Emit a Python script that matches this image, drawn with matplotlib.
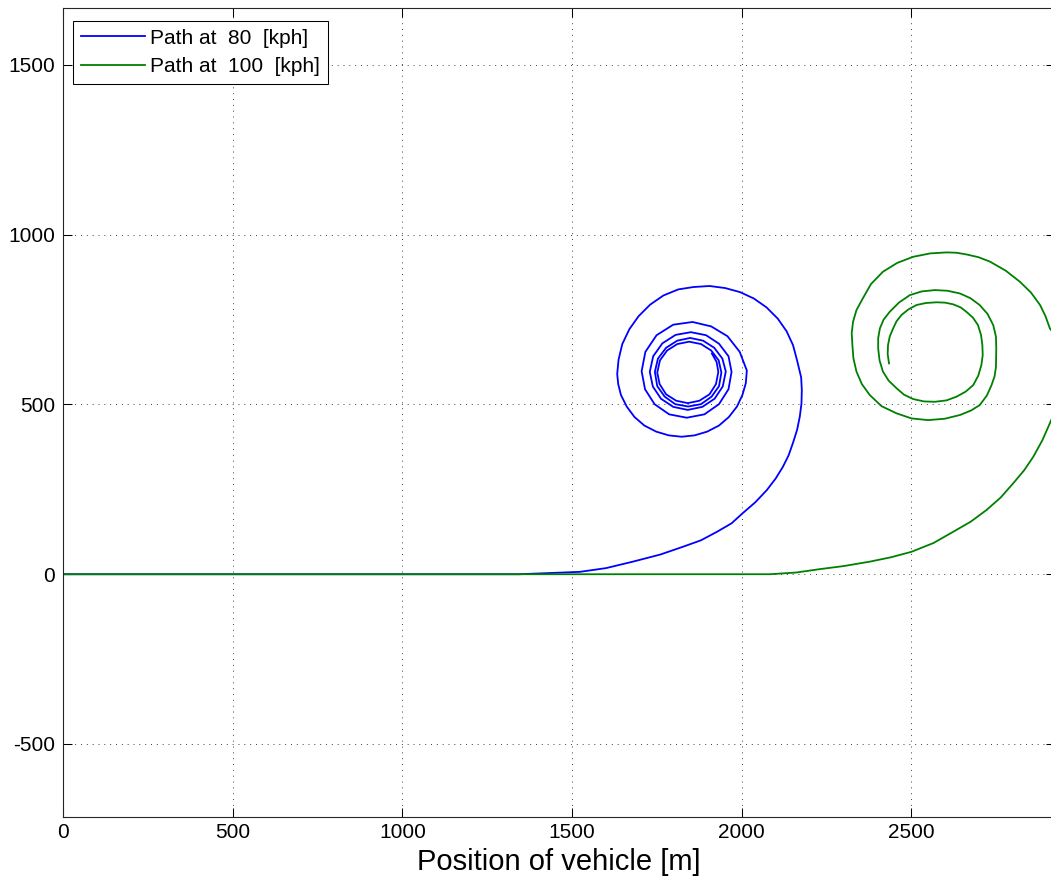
import matplotlib
matplotlib.use("Agg")
import matplotlib.pyplot as plt

plt.rcParams['font.family'] = ['Liberation Sans', 'DejaVu Sans']
plt.rcParams['axes.unicode_minus'] = False

# path at 80 kph
blue_x = [0, 1344, 1523, 1600, 1679, 1760, 1827, 1880, 1927, 1970, 2003, 2040,
          2074, 2100, 2121, 2138, 2151, 2163, 2171, 2176, 2177, 2175,
          2163, 2151, 2132, 2106, 2073, 2036, 1995, 1951, 1905, 1858, 1813, 1769,
          1730, 1696, 1669, 1648, 1637, 1633,
          1636, 1644, 1661, 1684, 1713, 1748, 1785, 1823, 1861, 1898, 1933, 1962,
          1986, 2002, 2012, 2015,
          1994, 1958, 1910, 1855, 1798, 1749, 1716, 1705,
          1715, 1743, 1786, 1838, 1890, 1933, 1961, 1970,
          1961, 1933, 1895, 1850, 1805, 1766, 1739, 1729,
          1738, 1762, 1798, 1841, 1884, 1920, 1944, 1953,
          1943, 1919, 1886, 1848, 1810, 1777, 1753, 1744,
          1751, 1773, 1804, 1842, 1880, 1911, 1933, 1940,
          1932, 1910, 1880, 1845, 1810, 1780, 1759, 1751,
          1758, 1777, 1807, 1841, 1875, 1905, 1924, 1931, 1926, 1912]
blue_y = [0, 0, 7, 18, 37, 58, 81, 100, 125, 150, 180, 212,
          248, 282, 316, 350, 387, 425, 464, 503, 543, 580,
          630, 675, 716, 753, 786, 812, 831, 843, 849, 846, 839, 821,
          794, 760, 722, 678, 632, 590,
          560, 528, 494, 463, 438, 420, 409, 405, 409, 420, 438, 463,
          494, 528, 563, 600,
          655, 701, 730, 743, 735, 704, 655, 598,
          545, 501, 471, 461, 471, 501, 545, 596,
          642, 679, 704, 713, 705, 680, 642, 596,
          553, 517, 493, 484, 493, 517, 553, 597,
          635, 667, 688, 696, 688, 667, 635, 596,
          554, 523, 501, 494, 501, 523, 554, 594,
          630, 659, 678, 685, 678, 659, 630, 594,
          560, 530, 511, 504, 511, 530, 560, 596, 625, 650]

# path at 100 kph
green_x = [0, 2083, 2160, 2230, 2300, 2377, 2440, 2500, 2565, 2623, 2675, 2721,
           2763, 2800, 2832, 2859, 2886, 2908, 2935, 2950, 2950, 2935, 2908,
           2895, 2879, 2852, 2819, 2778, 2731, 2697, 2662, 2633, 2604, 2555,
           2505, 2458, 2416, 2381, 2357, 2338, 2328, 2324, 2326,
           2329, 2338, 2354, 2377, 2412, 2456, 2500, 2549, 2598, 2643, 2675,
           2701, 2722, 2736, 2745, 2749, 2750,
           2749, 2741, 2724, 2701, 2674, 2643, 2606, 2569, 2530, 2495, 2463,
           2436, 2418, 2407, 2402, 2402,
           2406, 2416, 2433, 2456, 2478, 2505, 2537, 2569, 2603, 2633, 2660,
           2682, 2697, 2706, 2710, 2709,
           2705, 2696, 2681, 2662, 2645, 2623, 2599, 2574, 2543, 2515, 2491,
           2471, 2456, 2446, 2436, 2431, 2430, 2434]
green_y = [0, 0, 5, 15, 24, 37, 50, 66, 92, 125, 155, 189,
           226, 268, 306, 346, 395, 445, 510, 580, 650, 690, 724,
           760, 793, 830, 862, 894, 921, 934, 942, 947, 948, 945,
           935, 917, 891, 855, 813, 778, 744, 710, 675,
           636, 597, 560, 528, 495, 474, 459, 454, 458, 469, 482,
           498, 526, 557, 583, 610, 665,
           700, 734, 767, 793, 813, 827, 835, 837, 833, 822, 800,
           773, 750, 724, 695, 665,
           630, 597, 570, 548, 529, 516, 509, 508, 512, 523, 538,
           557, 585, 616, 645, 675,
           705, 734, 756, 773, 786, 795, 800, 801, 799, 793, 780,
           764, 745, 724, 700, 675, 648, 621]

x_ticks = [0, 500, 1000, 1500, 2000, 2500]
y_ticks = [-500, 0, 500, 1000, 1500]
labels = ["Path at  80  [kph]", "Path at  100  [kph]"]

fig = plt.figure(figsize=(10.51, 8.83), dpi=100)
ax = fig.add_axes([0.05994, 0.0744, 0.94386, 0.9162])

ax.plot(blue_x, blue_y, color=(0, 0, 1), lw=1.3, label=labels[0])
ax.plot(green_x, green_y, color=(0, 0.5, 0), lw=1.3, label=labels[1])

ax.set_xlim(0, 2923)
ax.set_ylim(-716, 1667)
ax.set_xticks(x_ticks)
ax.set_yticks(y_ticks)
ax.grid(True, color='0.25', linestyle=(0, (1, 5)), linewidth=0.7)
ax.tick_params(direction='in', length=6.8, width=0.75, labelsize=15,
               top=True, right=True, pad=4)
ax.tick_params(axis='y', pad=5.5)
for s in ax.spines.values():
    s.set_linewidth(0.8)
    s.set_color('0.15')

ax.set_xlabel("Position of vehicle [m]", fontsize=21, labelpad=4.5)

leg = ax.legend(loc='upper left', bbox_to_anchor=(72.7 / 1051, 1 - 20.7 / 883),
                bbox_transform=fig.transFigure, borderaxespad=0, fontsize=15,
                fancybox=False, framealpha=1, edgecolor='k',
                handlelength=3.07, handletextpad=0.28, labelspacing=0.45,
                borderpad=0.38)
leg.get_frame().set_linewidth(0.75)

fig.savefig("out.png", dpi=100)
